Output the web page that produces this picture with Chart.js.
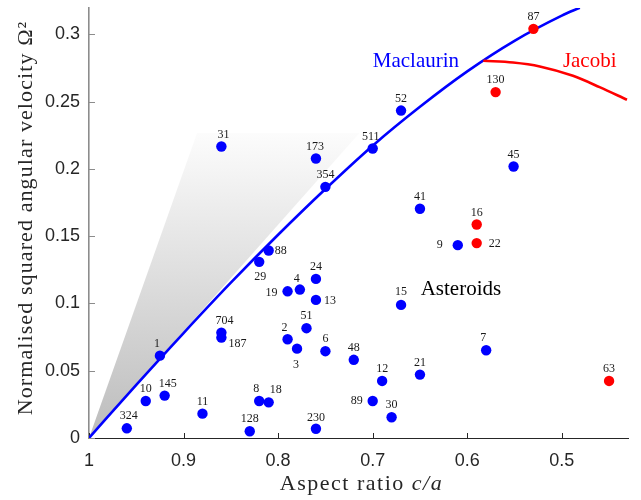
<!DOCTYPE html>
<html>
<head>
<meta charset="utf-8">
<script src="https://cdn.jsdelivr.net/npm/chart.js@4.4.0/dist/chart.umd.min.js"></script>
<style>
html,body{margin:0;padding:0;background:#ffffff;}
#wrap{width:641px;height:500px;position:relative;}
</style>
</head>
<body>
<div id="wrap"><canvas id="c" width="641" height="500"></canvas></div>
<script>
// ---------- data ----------
const xTicks = [1, 0.9, 0.8, 0.7, 0.6, 0.5];
const yTicks = [0, 0.05, 0.1, 0.15, 0.2, 0.25, 0.3];

// blue asteroids
const blueNames = ['324','10','145','1','11','704','187','31','128','8','18','29','88','2','3','51','19','4','24','13','6','230','173','354','48','511','52','89','12','30','15','21','41','9','7','45'];
const blueX = [0.960,0.940,0.920,0.925,0.880,0.860,0.860,0.860,0.830,0.820,0.810,0.820,0.810,0.790,0.780,0.770,0.790,0.777,0.760,0.760,0.750,0.760,0.760,0.750,0.720,0.700,0.670,0.700,0.690,0.680,0.670,0.650,0.650,0.610,0.580,0.551];
const blueY = [0.0072,0.0275,0.0315,0.0612,0.0181,0.0783,0.0746,0.2166,0.0050,0.0275,0.0265,0.1309,0.1393,0.0734,0.0664,0.0816,0.1090,0.1103,0.1182,0.1026,0.0645,0.0069,0.2077,0.1866,0.0581,0.2151,0.2433,0.0275,0.0424,0.0154,0.0989,0.0471,0.1703,0.1433,0.0652,0.2017];

// red asteroids
const redNames = ['16','22','130','87','63'];
const redX = [0.590,0.590,0.570,0.530,0.450];
const redY = [0.1586,0.1448,0.2570,0.3040,0.0424];

// Maclaurin sequence
const maclaurinX = [1, 0.95, 0.9, 0.85, 0.8, 0.75, 0.7, 0.65, 0.6, 0.55, 0.5, 0.481];
const maclaurinY = [0, 0.0395, 0.078, 0.1154, 0.151, 0.185, 0.2172, 0.2461, 0.2724, 0.2951, 0.3138, 0.3197];

// Jacobi sequence
const jacobiX = [0.5830, 0.5515, 0.5233, 0.4882, 0.4600, 0.4311];
const jacobiY = [0.2803, 0.2790, 0.2761, 0.2691, 0.2607, 0.2513];

// shaded region
const shadeX = [1, 0.8857, 0.714, 1];
const shadeY = [0, 0.2266, 0.2266, 0];

// ---------- label placement (text centre offsets in px, separate from data) ----------
const blueLabelOffsets = [[2,-12],[0,-12],[3,-12],[-3,-12],[0,-12],[3,-12],[16,6],[2,-12],[0,-12],[-3,-12],[7,-12],[1,15],[12,0],[-3,-11],[-1,16],[0,-12],[-16,2],[-3,-11],[0,-12],[14,1],[0,-12],[0,-11],[-1,-12],[0,-12],[0,-12],[-2,-12],[0,-12],[-16,0],[0,-12],[0,-12],[0,-13],[0,-12],[0,-12],[-18,0],[-3,-12],[0,-12]];
const redLabelOffsets = [[0,-12],[18,1],[0,-12],[0,-12],[0,-12]];

const textNotes = [
  {text:'Maclaurin', x:0.6543, y:0.2796, color:'#0000ff'},
  {text:'Jacobi', x:0.4705, y:0.2796, color:'#ff0000'},
  {text:'Asteroids', x:0.6067, y:0.1100, color:'#000000'}
];

const zip = (xs, ys) => xs.map((x, i) => ({x: x, y: ys[i]}));

const SERIF = '"Liberation Serif", "Times New Roman", serif';
const SANS = '"Liberation Sans", Arial, sans-serif';

const annotPlugin = {
  id: 'annot',
  beforeDatasetsDraw(chart) {
    const ctx = chart.ctx, xs = chart.scales.x, ys = chart.scales.y;
    ctx.save();
    ctx.lineWidth = 1;
    ctx.strokeStyle = '#262626';
    xTicks.forEach(v => {
      const px = Math.round(xs.getPixelForValue(v)) + 0.5;
      ctx.beginPath(); ctx.moveTo(px, ys.bottom); ctx.lineTo(px, ys.bottom - 5); ctx.stroke();
    });
    ctx.strokeStyle = '#8c8c8c';
    yTicks.forEach(v => {
      const py = Math.round(ys.getPixelForValue(v)) + 0.5;
      ctx.beginPath(); ctx.moveTo(xs.left, py); ctx.lineTo(xs.left + 6, py); ctx.stroke();
    });
    ctx.restore();
  },
  afterDatasetsDraw(chart) {
    const ctx = chart.ctx, xs = chart.scales.x, ys = chart.scales.y;
    ctx.save();
    ctx.textAlign = 'center';
    ctx.textBaseline = 'middle';
    ctx.fillStyle = '#1a1a1a';
    ctx.font = '12px ' + SERIF;
    blueNames.forEach((n, i) => {
      const px = xs.getPixelForValue(blueX[i]), py = ys.getPixelForValue(blueY[i]);
      const o = blueLabelOffsets[i];
      ctx.fillText(n, px + o[0], py + o[1]);
    });
    redNames.forEach((n, i) => {
      const px = xs.getPixelForValue(redX[i]), py = ys.getPixelForValue(redY[i]);
      const o = redLabelOffsets[i];
      ctx.fillText(n, px + o[0], py + o[1]);
    });
    ctx.font = '21px ' + SERIF;
    textNotes.forEach(t => {
      ctx.fillStyle = t.color;
      ctx.fillText(t.text, xs.getPixelForValue(t.x), ys.getPixelForValue(t.y));
    });
    // axis titles
    ctx.fillStyle = '#262626';
    ctx.letterSpacing = '1.5px';
    const cx = (xs.left + xs.right) / 2 + 3;
    const a = 'Aspect ratio ';
    ctx.font = '22px ' + SERIF;
    const wa = ctx.measureText(a).width;
    ctx.font = 'italic 22px ' + SERIF;
    const wb = ctx.measureText('c/a').width;
    let sx = cx - (wa + wb) / 2;
    ctx.textAlign = 'left';
    ctx.font = '22px ' + SERIF;
    ctx.fillText(a, sx, 484);
    ctx.font = 'italic 22px ' + SERIF;
    ctx.fillText('c/a', sx + wa, 484);
    ctx.letterSpacing = '1.1px';
    ctx.translate(26, 218);
    ctx.rotate(-Math.PI / 2);
    ctx.textAlign = 'center';
    ctx.font = '22px ' + SERIF;
    ctx.fillText('Normalised squared angular velocity \u03A9\u00B2', 0, 0);
    ctx.restore();
  }
};

const ctx = document.getElementById('c').getContext('2d');
new Chart(ctx, {
  type: 'scatter',
  data: {
    datasets: [
      {
        label: 'Asteroids (red)',
        data: zip(redX, redY),
        backgroundColor: '#ff0000', borderColor: '#ff0000',
        pointRadius: 5.2, pointHoverRadius: 5.2, borderWidth: 0
      },
      {
        label: 'Asteroids (blue)',
        data: zip(blueX, blueY),
        backgroundColor: '#0000ff', borderColor: '#0000ff',
        pointRadius: 5.2, pointHoverRadius: 5.2, borderWidth: 0
      },
      {
        label: 'Jacobi',
        data: zip(jacobiX, jacobiY),
        showLine: true, borderColor: '#ff0000', borderWidth: 2.6,
        pointRadius: 0, cubicInterpolationMode: 'monotone', fill: false
      },
      {
        label: 'Maclaurin',
        data: zip(maclaurinX, maclaurinY),
        showLine: true, borderColor: '#0000ff', borderWidth: 2.6,
        pointRadius: 0, cubicInterpolationMode: 'monotone', fill: false
      },
      {
        label: 'shade',
        data: zip(shadeX, shadeY),
        showLine: true, borderWidth: 0, borderColor: 'rgba(0,0,0,0)',
        pointRadius: 0, tension: 0, fill: 'shape',
        backgroundColor: function(c) {
          const chart = c.chart;
          if (!chart.chartArea) return 'rgba(220,220,220,1)';
          const ys = chart.scales.y;
          const g = chart.ctx.createLinearGradient(0, ys.getPixelForValue(0), 0, ys.getPixelForValue(0.2266));
          g.addColorStop(0, 'rgb(188,188,188)');
          g.addColorStop(1, 'rgb(252,252,252)');
          return g;
        }
      }
    ]
  },
  options: {
    responsive: false,
    animation: false,
    devicePixelRatio: 1,
    layout: { padding: { top: 8, right: 13, left: 0, bottom: 0 } },
    plugins: { legend: { display: false }, tooltip: { enabled: false } },
    scales: {
      x: {
        type: 'linear', reverse: true, min: 0.43, max: 1,
        afterFit: s => { s.height = 62; s.paddingLeft = 0; s.paddingRight = 0; },
        afterBuildTicks: s => { s.ticks = xTicks.map(v => ({value: v})); },
        grid: { display: false, drawTicks: false },
        border: { display: true, color: '#262626', width: 1 },
        ticks: {
          padding: 12, color: '#262626', maxRotation: 0,
          font: { family: SANS, size: 18 },
          callback: v => String(Math.round(v * 100) / 100)
        }
      },
      y: {
        type: 'linear', min: 0, max: 0.3195,
        afterFit: s => { s.width = 89; s.paddingTop = 0; s.paddingBottom = 0; },
        afterBuildTicks: s => { s.ticks = yTicks.map(v => ({value: v})); },
        grid: { display: false, drawTicks: false },
        border: { display: true, color: '#8c8c8c', width: 1.6 },
        ticks: {
          padding: 9, color: '#262626',
          font: { family: SANS, size: 18 },
          callback: v => String(Math.round(v * 100) / 100)
        }
      }
    }
  },
  plugins: [annotPlugin]
});
</script>
</body>
</html>
